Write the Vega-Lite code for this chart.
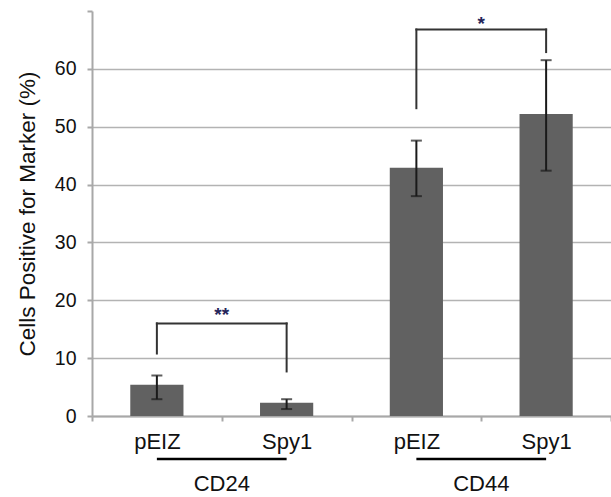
{
  "$schema": "https://vega.github.io/schema/vega-lite/v6.json",
  "width": 519,
  "height": 405,
  "autosize": {"type": "none"},
  "padding": {"left": 92, "top": 11, "right": 0, "bottom": 81},
  "background": "white",
  "config": {
    "view": {"stroke": null},
    "font": "Liberation Sans"
  },
  "datasets": {
    "bars": [
      {"id": "CD24|pEIZ", "value": 5.4, "lo": 2.9, "hi": 7.0},
      {"id": "CD24|Spy1", "value": 2.3, "lo": 1.2, "hi": 2.9},
      {"id": "CD44|pEIZ", "value": 42.9, "lo": 38.0, "hi": 47.6},
      {"id": "CD44|Spy1", "value": 52.2, "lo": 42.4, "hi": 61.5}
    ],
    "brackets": [
      {"a": "CD24|pEIZ", "b": "CD24|pEIZ", "from": 10.8, "to": 16.0},
      {"a": "CD24|pEIZ", "b": "CD24|Spy1", "from": 16.0, "to": 16.0},
      {"a": "CD24|Spy1", "b": "CD24|Spy1", "from": 7.7, "to": 16.0},
      {"a": "CD44|pEIZ", "b": "CD44|pEIZ", "from": 53.2, "to": 66.8},
      {"a": "CD44|pEIZ", "b": "CD44|Spy1", "from": 66.8, "to": 66.8},
      {"a": "CD44|Spy1", "b": "CD44|Spy1", "from": 62.9, "to": 66.8}
    ],
    "stars": [
      {"a": "CD24|pEIZ", "stars": "**", "at": 16.5},
      {"a": "CD44|pEIZ", "stars": "*", "at": 66.7}
    ],
    "groups": [
      {"a": "CD24|pEIZ", "b": "CD24|Spy1", "name": "CD24"},
      {"a": "CD44|pEIZ", "b": "CD44|Spy1", "name": "CD44"}
    ]
  },
  "layer": [
    {
      "data": {"name": "bars"},
      "mark": {"type": "bar", "color": "#616161", "width": {"band": 0.41}},
      "encoding": {
        "x": {
          "field": "id",
          "type": "nominal",
          "scale": {"domain": ["CD24|pEIZ", "CD24|Spy1", "CD44|pEIZ", "CD44|Spy1"], "padding": 0},
          "axis": {
            "title": null,
            "labelExpr": "split(datum.value, '|')[1]",
            "tickBand": "extent",
            "labelAngle": 0,
            "labelFontSize": 22,
            "labelPadding": 10,
            "labelColor": "#111111",
            "domainColor": "#a8a8a8",
            "domainWidth": 2,
            "tickColor": "#a8a8a8",
            "tickWidth": 2,
            "tickSize": 5,
            "grid": false
          }
        },
        "y": {
          "field": "value",
          "type": "quantitative",
          "title": "Cells Positive for Marker (%)",
          "scale": {"domain": [0, 70], "nice": false},
          "axis": {
            "values": [0, 10, 20, 30, 40, 50, 60, 70],
            "labelExpr": "datum.value === 70 ? '' : datum.label",
            "gridOpacity": {"condition": {"test": "datum.value === 70", "value": 0}, "value": 1},
            "gridColor": "#b3b3b3",
            "gridWidth": 1.5,
            "domainColor": "#a8a8a8",
            "domainWidth": 2,
            "tickColor": "#a8a8a8",
            "tickWidth": 2,
            "tickSize": 5,
            "labelFontSize": 19.5,
            "labelColor": "#111111",
            "labelPadding": 11,
            "titleFontSize": 22.5,
            "titleFontWeight": "normal",
            "titleColor": "#111111",
            "titlePadding": 15
          }
        }
      }
    },
    {
      "data": {"name": "bars"},
      "mark": {"type": "errorbar", "color": "#1a1a1a", "thickness": 2, "ticks": {"size": 11}},
      "encoding": {
        "x": {"field": "id", "type": "nominal"},
        "y": {"field": "lo", "type": "quantitative", "title": "Cells Positive for Marker (%)"},
        "y2": {"field": "hi"}
      }
    },
    {
      "data": {"name": "brackets"},
      "mark": {"type": "rule", "color": "#333333", "strokeWidth": 2, "strokeCap": "square"},
      "encoding": {
        "x": {"field": "a", "type": "nominal", "bandPosition": 0.5},
        "x2": {"field": "b", "bandPosition": 0.5},
        "y": {"field": "from", "type": "quantitative", "title": "Cells Positive for Marker (%)"},
        "y2": {"field": "to"}
      }
    },
    {
      "data": {"name": "stars"},
      "mark": {"type": "text", "fontSize": 19, "fontWeight": "bold", "color": "#25255a", "baseline": "alphabetic", "align": "center"},
      "encoding": {
        "x": {"field": "a", "type": "nominal", "bandPosition": 1},
        "y": {"field": "at", "type": "quantitative", "title": "Cells Positive for Marker (%)"},
        "text": {"field": "stars"}
      }
    },
    {
      "data": {"name": "groups"},
      "mark": {"type": "rule", "color": "#000000", "strokeWidth": 2.5, "yOffset": 43},
      "encoding": {
        "x": {"field": "a", "type": "nominal", "bandPosition": 0.5},
        "x2": {"field": "b", "bandPosition": 0.5},
        "y": {"datum": 0}
      }
    },
    {
      "data": {"name": "groups"},
      "mark": {"type": "text", "fontSize": 22, "color": "#111111", "baseline": "alphabetic", "align": "center", "dy": 75},
      "encoding": {
        "x": {"field": "a", "type": "nominal", "bandPosition": 1},
        "y": {"datum": 0},
        "text": {"field": "name"}
      }
    }
  ]
}
